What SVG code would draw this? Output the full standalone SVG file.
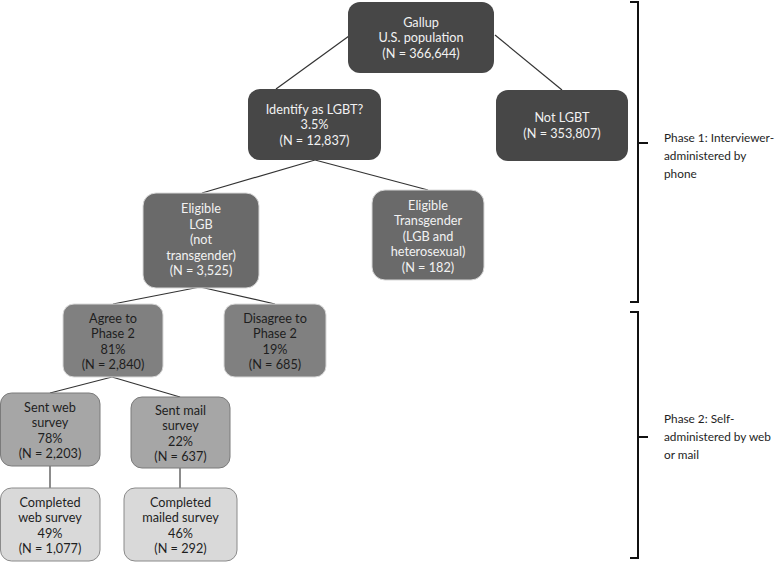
<svg xmlns="http://www.w3.org/2000/svg" width="777" height="562" viewBox="0 0 777 562">
<style>
text{font-family:"Lato","Liberation Sans",sans-serif;font-size:12.7px;text-anchor:middle}
.d rect{fill:#474747}
.d text{fill:#f2f2f2}
.m rect{fill:#6a6a6a;stroke:#d8d8d8;stroke-width:1}
.m text{fill:#f2f2f2}
.g rect{fill:#808080;stroke:#d8d8d8;stroke-width:1}
.g text{fill:#1e1e1e}
.s rect{fill:#a6a6a6;stroke:#7a7a7a;stroke-width:1}
.s text{fill:#1e1e1e}
.c rect{fill:#d9d9d9;stroke:#8a8a8a;stroke-width:1}
.c text{fill:#1e1e1e}
.conn line{stroke:#333;stroke-width:1.2}
.conn line.v{stroke:#666;stroke-width:1.5}
.br path{fill:none;stroke:#111;stroke-width:2}
.ph{text-anchor:start;fill:#1e1e1e;font-size:11.8px}
</style>
<rect width="777" height="562" fill="#fff"/>
<g id="connectors" class="conn">
<line x1="349" y1="36" x2="276" y2="89"/>
<line x1="495" y1="35" x2="562" y2="90"/>
<line x1="315" y1="160" x2="202" y2="193"/>
<line x1="315" y1="160" x2="428" y2="190"/>
<line x1="200" y1="287" x2="113" y2="304"/>
<line x1="200" y1="287" x2="275" y2="304"/>
<line x1="112" y1="377" x2="50" y2="393"/>
<line x1="112" y1="377" x2="180" y2="397"/>
<line class="v" x1="50" y1="466" x2="50" y2="488"/>
<line class="v" x1="180" y1="468" x2="180" y2="488"/>
</g>
<g id="gallup" class="d">
<rect x="348" y="2" width="146" height="71" rx="12"/>
<text x="421" y="26.5">Gallup</text>
<text x="421" y="42">U.S. population</text>
<text x="421" y="57.5">(N = 366,644)</text>
</g>
<g id="identify" class="d">
<rect x="248" y="89" width="133" height="71" rx="12"/>
<text x="314.5" y="113.5">Identify as LGBT?</text>
<text x="314.5" y="129">3.5%</text>
<text x="314.5" y="144.5">(N = 12,837)</text>
</g>
<g id="notlgbt" class="d">
<rect x="496" y="90" width="132" height="71" rx="12"/>
<text x="562" y="122">Not LGBT</text>
<text x="562" y="137.5">(N = 353,807)</text>
</g>
<g id="eligible-lgb" class="m">
<rect x="143" y="193" width="116" height="95" rx="13"/>
<text x="201" y="213">Eligible</text>
<text x="201" y="228.5">LGB</text>
<text x="201" y="244">(not</text>
<text x="201" y="259.5">transgender)</text>
<text x="201" y="275">(N = 3,525)</text>
</g>
<g id="eligible-trans" class="m">
<rect x="372" y="190" width="112" height="90" rx="13"/>
<text x="428" y="209.5">Eligible</text>
<text x="428" y="225">Transgender</text>
<text x="428" y="240.5">(LGB and</text>
<text x="428" y="256">heterosexual)</text>
<text x="428" y="271.5">(N = 182)</text>
</g>
<g id="agree" class="g">
<rect x="63" y="304" width="100" height="73" rx="11"/>
<text x="113" y="322.5">Agree to</text>
<text x="113" y="338">Phase 2</text>
<text x="113" y="353.5">81%</text>
<text x="113" y="369">(N = 2,840)</text>
</g>
<g id="disagree" class="g">
<rect x="224" y="304" width="102" height="73" rx="11"/>
<text x="275" y="322.5">Disagree to</text>
<text x="275" y="338">Phase 2</text>
<text x="275" y="353.5">19%</text>
<text x="275" y="369">(N = 685)</text>
</g>
<g id="sent-web" class="s">
<rect x="0.5" y="393" width="99.5" height="73" rx="11"/>
<text x="50" y="411.5">Sent web</text>
<text x="50" y="427">survey</text>
<text x="50" y="442.5">78%</text>
<text x="50" y="458">(N = 2,203)</text>
</g>
<g id="sent-mail" class="s">
<rect x="131" y="397" width="99" height="71" rx="11"/>
<text x="180.5" y="414.5">Sent mail</text>
<text x="180.5" y="430">survey</text>
<text x="180.5" y="445.5">22%</text>
<text x="180.5" y="461">(N = 637)</text>
</g>
<g id="completed-web" class="c">
<rect x="0.5" y="488" width="99.5" height="73" rx="11"/>
<text x="50" y="506.5">Completed</text>
<text x="50" y="522">web survey</text>
<text x="50" y="537.5">49%</text>
<text x="50" y="553">(N = 1,077)</text>
</g>
<g id="completed-mail" class="c">
<rect x="124" y="488" width="113" height="73" rx="11"/>
<text x="180.5" y="506.5">Completed</text>
<text x="180.5" y="522">mailed survey</text>
<text x="180.5" y="537.5">46%</text>
<text x="180.5" y="553">(N = 292)</text>
</g>
<g id="phase1" class="br">
<path d="M630 2 H638 V302 H630 M638 143 H648"/>
<text class="ph" x="664" y="142">Phase 1: Interviewer-</text>
<text class="ph" x="664" y="160">administered by</text>
<text class="ph" x="664" y="178">phone</text>
</g>
<g id="phase2" class="br">
<path d="M630 312 H638 V558 H630 M638 437 H648"/>
<text class="ph" x="664" y="423">Phase 2: Self-</text>
<text class="ph" x="664" y="441">administered by web</text>
<text class="ph" x="664" y="459">or mail</text>
</g>
</svg>
